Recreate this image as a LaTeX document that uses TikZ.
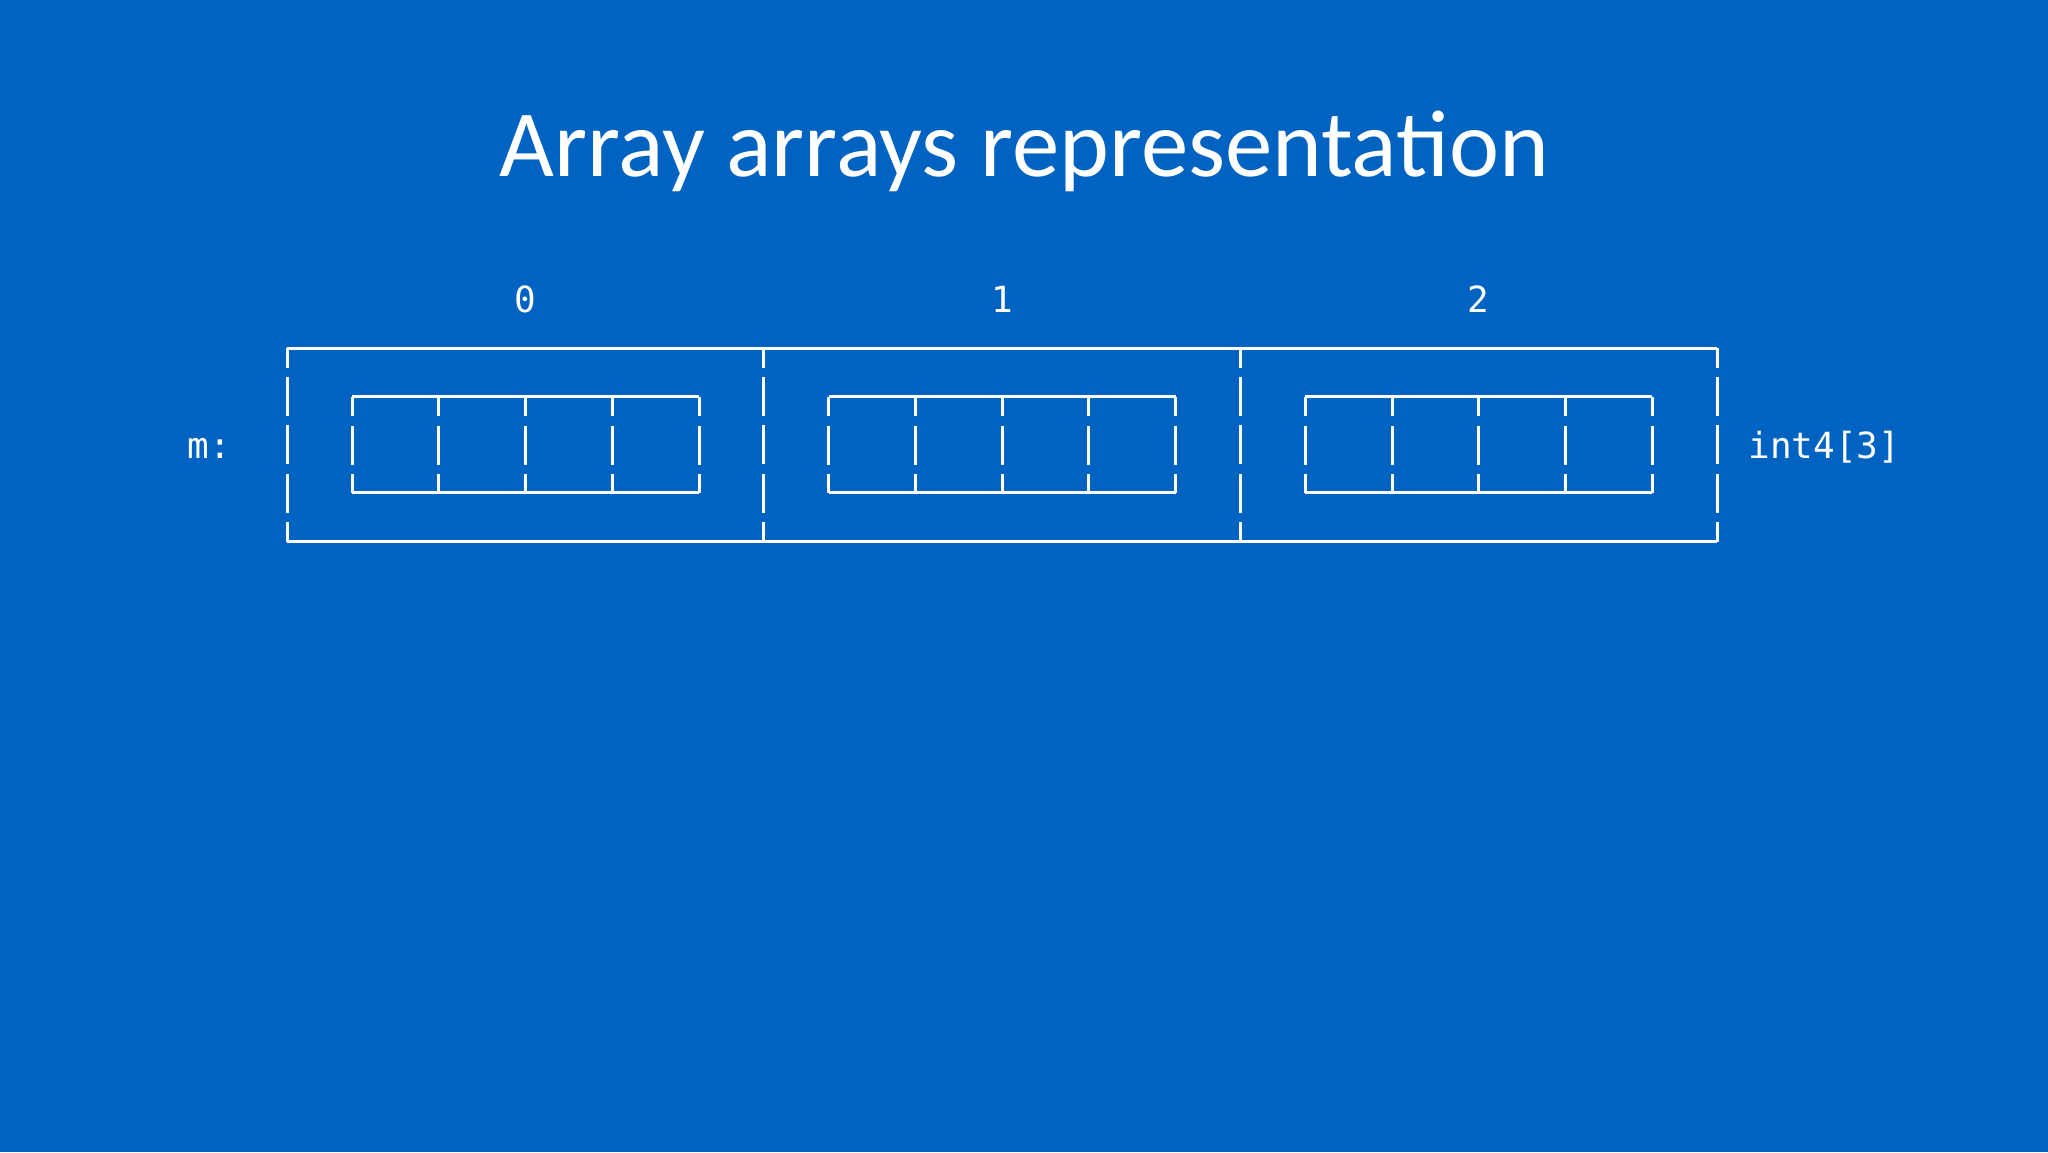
\documentclass[tikz,border=0pt]{standalone}
\usepackage{fontspec}
\setmainfont{Carlito}
\newfontfamily\codefont{DejaVu Sans Mono}
\definecolor{bg}{HTML}{0063C2}
\begin{document}
\begin{tikzpicture}[x=0.5pt,y=-0.5pt,
  wall/.style={draw=white, line width=1.5pt, dash pattern=on 19.5pt off 4.67pt, dash phase=9.75pt},
  rim/.style={draw=white, line width=1.5pt},
  code/.style={text=white, font=\codefont\fontsize{18}{22}\selectfont, inner sep=0pt}]
\fill[bg] (0,0) rectangle (2048,1152);
\useasboundingbox (0,0) rectangle (2048,1152);
\node[text=white, font=\fontsize{47.4}{57}\selectfont, anchor=base, inner sep=0pt] (title) at (1024,176) {Array arrays representation};
% outer box
\draw[rim] (287,348.3) -- (1717,348.3);
\draw[rim] (287,541.7) -- (1717,541.7);
\foreach \x in {287,763.67,1240.33,1717} {
  \draw[wall] (\x,348.3) -- (\x,541.7);
}
% inner boxes
\foreach \i/\lab in {0/0,1/1,2/2} {
  \pgfmathsetmacro{\L}{287+476.67*\i+65}
  \pgfmathsetmacro{\R}{\L+347}
  \draw[rim] (\L,396.7) -- (\R,396.7);
  \draw[rim] (\L,492.7) -- (\R,492.7);
  \foreach \k in {0,1,2,3,4} {
    \draw[wall] ({\L+86.75*\k},396.7) -- ({\L+86.75*\k},492.7);
  }
  \node[code, anchor=base] (idx\i) at ({287+476.67*\i+238.3},312) {\lab};
}
\node[code, anchor=base west] (mlabel) at (187,458) {m:};
\node[code, anchor=base west] (tlabel) at (1748,458) {int4[3]};
\end{tikzpicture}
\end{document}
